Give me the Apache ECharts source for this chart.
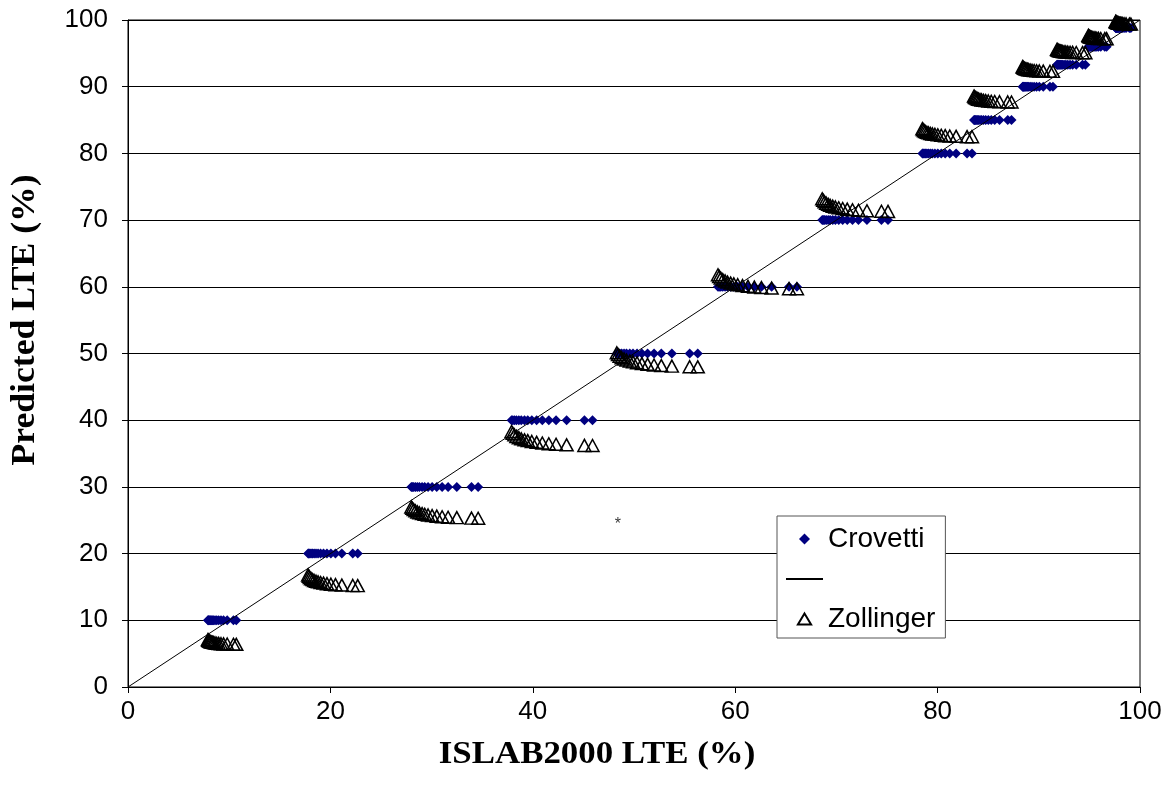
<!DOCTYPE html>
<html>
<head>
<meta charset="utf-8">
<script src="https://cdn.jsdelivr.net/npm/echarts@6/dist/echarts.min.js"></script>
<style>
html,body{margin:0;padding:0;background:#fff;}
#chart{width:1174px;height:799px;}
</style>
</head>
<body>
<div id="chart"></div>
<script>
// ISLAB2000 LTE (%) values, one list per cluster
const islabX = [
  [7.9, 7.94, 8.0, 8.07, 8.15, 8.24, 8.35, 8.46, 8.6, 8.77, 8.96, 9.19, 9.44, 9.8, 10.42, 10.7],
  [17.8, 17.87, 17.97, 18.09, 18.24, 18.39, 18.58, 18.78, 19.03, 19.32, 19.66, 20.05, 20.5, 21.13, 22.21, 22.7],
  [28.0, 28.1, 28.23, 28.4, 28.59, 28.79, 29.06, 29.32, 29.65, 30.05, 30.51, 31.04, 31.63, 32.49, 33.94, 34.6],
  [37.9, 38.02, 38.18, 38.38, 38.62, 38.86, 39.18, 39.5, 39.9, 40.38, 40.94, 41.58, 42.3, 43.34, 45.1, 45.9],
  [48.3, 48.42, 48.58, 48.78, 49.02, 49.26, 49.58, 49.9, 50.3, 50.78, 51.34, 51.98, 52.7, 53.74, 55.5, 56.3],
  [58.3, 58.42, 58.57, 58.77, 59.0, 59.24, 59.55, 59.86, 60.25, 60.72, 61.26, 61.89, 62.59, 63.6, 65.32, 66.1],
  [68.6, 68.7, 68.83, 68.99, 69.19, 69.38, 69.64, 69.9, 70.23, 70.62, 71.07, 71.59, 72.18, 73.02, 74.45, 75.1],
  [78.5, 78.57, 78.67, 78.79, 78.94, 79.09, 79.28, 79.48, 79.73, 80.02, 80.36, 80.75, 81.2, 81.83, 82.91, 83.4],
  [83.6, 83.66, 83.73, 83.82, 83.93, 84.04, 84.19, 84.34, 84.53, 84.75, 85.01, 85.3, 85.64, 86.12, 86.93, 87.3],
  [88.4, 88.45, 88.51, 88.58, 88.67, 88.76, 88.88, 89.0, 89.15, 89.33, 89.54, 89.78, 90.05, 90.44, 91.1, 91.4],
  [91.8, 91.84, 91.9, 91.97, 92.05, 92.14, 92.25, 92.36, 92.5, 92.67, 92.86, 93.09, 93.34, 93.7, 94.32, 94.6],
  [94.9, 94.93, 94.96, 95.01, 95.06, 95.12, 95.19, 95.26, 95.35, 95.46, 95.58, 95.73, 95.89, 96.12, 96.52, 96.7],
  [97.6, 97.62, 97.65, 97.69, 97.74, 97.78, 97.84, 97.9, 97.98, 98.07, 98.17, 98.29, 98.43, 98.62, 98.95, 99.1]
];
// Crovetti predicted LTE (%) – constant level per cluster
const crovettiLevel = [10, 20, 30, 40, 50, 60, 70, 80, 85, 90, 93.3, 96, 98.8];
// Zollinger predicted LTE (%) per point
const zollingerY = [
  [7.1, 7.02, 6.93, 6.86, 6.79, 6.74, 6.69, 6.65, 6.6, 6.56, 6.53, 6.49, 6.46, 6.44, 6.41, 6.4],
  [16.8, 16.61, 16.42, 16.24, 16.1, 15.97, 15.86, 15.76, 15.66, 15.57, 15.49, 15.41, 15.34, 15.28, 15.22, 15.2],
  [27.0, 26.8, 26.59, 26.41, 26.25, 26.12, 26.0, 25.9, 25.79, 25.69, 25.61, 25.52, 25.45, 25.39, 25.32, 25.3],
  [38.3, 38.05, 37.8, 37.57, 37.38, 37.21, 37.06, 36.94, 36.81, 36.68, 36.58, 36.47, 36.39, 36.31, 36.22, 36.2],
  [50.1, 49.85, 49.6, 49.37, 49.18, 49.01, 48.86, 48.74, 48.61, 48.48, 48.38, 48.27, 48.19, 48.11, 48.02, 48.0],
  [61.8, 61.55, 61.3, 61.07, 60.88, 60.71, 60.56, 60.44, 60.31, 60.18, 60.08, 59.97, 59.89, 59.81, 59.72, 59.7],
  [73.2, 72.97, 72.74, 72.54, 72.36, 72.21, 72.08, 71.97, 71.85, 71.74, 71.64, 71.55, 71.47, 71.4, 71.32, 71.3],
  [83.7, 83.56, 83.41, 83.28, 83.17, 83.08, 82.99, 82.92, 82.85, 82.78, 82.72, 82.66, 82.61, 82.56, 82.51, 82.5],
  [88.6, 88.49, 88.38, 88.29, 88.2, 88.13, 88.07, 88.02, 87.96, 87.91, 87.86, 87.82, 87.78, 87.75, 87.71, 87.7],
  [93.0, 92.92, 92.83, 92.76, 92.69, 92.64, 92.59, 92.55, 92.5, 92.46, 92.43, 92.39, 92.36, 92.34, 92.31, 92.3],
  [95.6, 95.54, 95.48, 95.42, 95.38, 95.34, 95.3, 95.27, 95.24, 95.21, 95.19, 95.16, 95.14, 95.12, 95.1, 95.1],
  [97.7, 97.64, 97.58, 97.52, 97.48, 97.44, 97.4, 97.37, 97.34, 97.31, 97.29, 97.26, 97.24, 97.22, 97.2, 97.2],
  [99.8, 99.75, 99.7, 99.66, 99.62, 99.59, 99.56, 99.53, 99.51, 99.49, 99.47, 99.45, 99.43, 99.42, 99.4, 99.4]
];
// line of equality
const equalityX = [0, 100];
const equalityY = [0, 100];
// stray asterisk mark
const asteriskPoint = [48.4, 24.4];

const seriesNames = ['Crovetti', ' ', 'Zollinger'];
const xTitle = 'ISLAB2000 LTE (%)';
const yTitle = 'Predicted LTE (%)';

const crovettiData = [];
const zollingerData = [];
islabX.forEach((xs, i) => {
  xs.forEach((x, j) => {
    crovettiData.push([x, crovettiLevel[i]]);
    zollingerData.push([x, zollingerY[i][j]]);
  });
});
const equalityData = equalityX.map((x, i) => [x, equalityY[i]]);

const chart = echarts.init(document.getElementById('chart'), null, {renderer: 'canvas'});
chart.setOption({
  animation: false,
  backgroundColor: '#fff',
  grid: {left: 128, right: 34, top: 20, bottom: 112, show: true, borderColor: '#000', borderWidth: 1, backgroundColor: 'transparent'},
  xAxis: {
    type: 'value', min: 0, max: 100, interval: 20,
    axisLine: {show: true, lineStyle: {color: '#000', width: 1}},
    axisTick: {show: true, length: 6, lineStyle: {color: '#000'}},
    axisLabel: {color: '#000', fontFamily: 'Liberation Sans, Arial', fontSize: 26, margin: 12},
    splitLine: {show: false}
  },
  yAxis: {
    type: 'value', min: 0, max: 100, interval: 10,
    axisLine: {show: true, lineStyle: {color: '#000', width: 1}},
    axisTick: {show: true, length: 6, lineStyle: {color: '#000'}},
    axisLabel: {color: '#000', fontFamily: 'Liberation Sans, Arial', fontSize: 26, margin: 20},
    splitLine: {show: true, lineStyle: {color: '#000', width: 1}}
  },
  legend: {
    orient: 'vertical',
    left: 777, top: 516,
    data: [
      {name: seriesNames[0], icon: 'path://M5,0L10,5L5,10L0,5Z'},
      {name: seriesNames[1], itemStyle: {color: 'rgba(0,0,0,0)', borderWidth: 0, opacity: 0}},
      {name: seriesNames[2], icon: 'path://M6,0L12,10L0,10Z'}
    ],
    symbolKeepAspect: true,
    itemWidth: 37, itemHeight: 11, itemGap: 12,
    padding: [9, 10, 5, 8],
    backgroundColor: '#fff',
    borderColor: '#555', borderWidth: 1,
    textStyle: {color: '#000', fontFamily: 'Liberation Sans, Arial', fontSize: 28}
  },
  graphic: [
    {type: 'text', x: 597, y: 755, scaleX: 1.09, style: {text: xTitle, font: 'bold 32px "Liberation Serif", "Times New Roman", serif', fill: '#000', align: 'center', verticalAlign: 'middle'}},
    {type: 'text', x: 25, y: 320, rotation: Math.PI / 2, scaleX: 1.08, style: {text: yTitle, font: 'bold 33px "Liberation Serif", "Times New Roman", serif', fill: '#000', align: 'center', verticalAlign: 'middle'}}
  ],
  series: [
    {
      name: seriesNames[0], type: 'scatter', data: crovettiData,
      symbol: 'diamond', symbolSize: 10,
      itemStyle: {color: '#000080', opacity: 1}, z: 2
    },
    {
      name: seriesNames[1], type: 'line', data: equalityData,
      symbol: 'none', showSymbol: false,
      lineStyle: {color: '#000', width: 1}, itemStyle: {color: 'rgba(0,0,0,0)'}, z: 3
    },
    {
      name: seriesNames[2], type: 'scatter', data: zollingerData,
      symbol: 'triangle', symbolSize: [13, 12],
      itemStyle: {color: 'rgba(0,0,0,0)', borderColor: '#000', borderWidth: 1.5, opacity: 1}, z: 4
    },
    {
      name: 'note', type: 'scatter', data: [asteriskPoint],
      symbolSize: 0,
      label: {show: true, position: 'inside', formatter: '*', color: '#000', fontFamily: 'Liberation Sans, Arial', fontSize: 16},
      z: 5
    }
  ]
});
</script>
</body>
</html>
